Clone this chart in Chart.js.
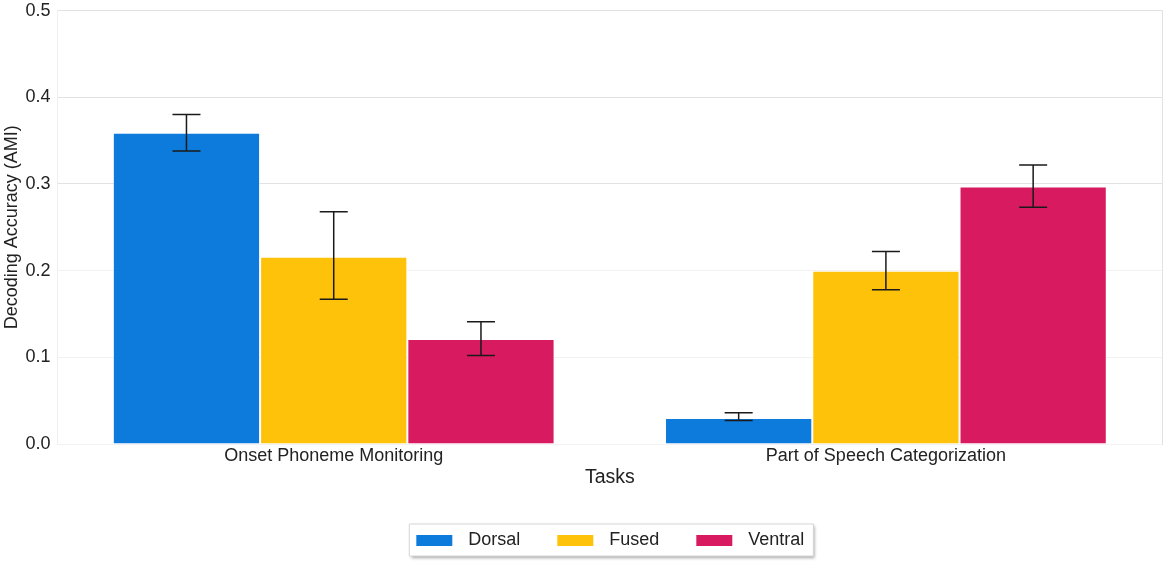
<!DOCTYPE html>
<html>
<head>
<meta charset="utf-8">
<script src="https://cdn.jsdelivr.net/npm/chart.js@4"></script>
<style>
  body { margin: 0; background: #fff; }
  #wrap { width: 1170px; height: 562px; position: relative; }
</style>
</head>
<body>
<div id="wrap"><canvas id="accChart"></canvas></div>
<script>
// values
const tasks = ["Onset Phoneme Monitoring", "Part of Speech Categorization"];
const seriesNames = ["Dorsal", "Fused", "Ventral"];

const dorsal = [0.359, 0.030];
const dorsalLow = [0.338, 0.027];
const dorsalHigh = [0.380, 0.036];

const fused = [0.216, 0.200];
const fusedLow = [0.167, 0.178];
const fusedHigh = [0.268, 0.222];

const ventral = [0.121, 0.297];
const ventralLow = [0.102, 0.273];
const ventralHigh = [0.141, 0.322];

const yTicks = [0, 0.1, 0.2, 0.3, 0.4, 0.5];

const colors = ["#0c7bdc", "#ffc20a", "#d81b60"];
const textColor = "#222";
const fontFamily = "'Liberation Sans', Arial, sans-serif";

// legend swatch: some blank room on the left, 36x11 colour block, small gap
const SW_LEFT = 27, SW_W = 36, SW_GAP = 7, SW_H = 11;
function makeSwatch(color) {
  const c = document.createElement("canvas");
  c.width = SW_LEFT + SW_W + SW_GAP;
  c.height = SW_H;
  const g = c.getContext("2d");
  g.fillStyle = color;
  g.fillRect(SW_LEFT, 0, SW_W, SW_H);
  return c;
}
const swatches = colors.map(makeSwatch);

// error bars (whiskers with caps)
const errorBars = {
  id: "errorBars",
  afterDatasetsDraw(chart) {
    const ctx = chart.ctx;
    const y = chart.scales.y;
    chart.data.datasets.forEach((ds, i) => {
      const meta = chart.getDatasetMeta(i);
      meta.data.forEach((bar, j) => {
        const top = y.getPixelForValue(ds.errHigh[j]);
        const bot = y.getPixelForValue(ds.errLow[j]);
        const cap = 14;
        ctx.save();
        ctx.strokeStyle = "#1a1a1a";
        ctx.lineWidth = 1.5;
        ctx.beginPath();
        ctx.moveTo(bar.x, top);
        ctx.lineTo(bar.x, bot);
        ctx.moveTo(bar.x - cap, top);
        ctx.lineTo(bar.x + cap, top);
        ctx.moveTo(bar.x - cap, bot);
        ctx.lineTo(bar.x + cap, bot);
        ctx.stroke();
        ctx.restore();
      });
    });
  }
};

// centre the legend under the plot area, then frame it with a soft shadow
const legendFrame = {
  id: "legendFrame",
  afterLayout(chart) {
    const lg = chart.legend;
    if (!lg) return;
    lg.left = chart.chartArea.left - 13;
    lg.right = chart.chartArea.right - 13;
    lg.width = lg.right - lg.left;
  },
  beforeDraw(chart) {
    const boxes = chart.legend && chart.legend.legendHitBoxes;
    if (!boxes || !boxes.length) return;
    let l = Infinity, r = -Infinity, t = Infinity, b = -Infinity;
    boxes.forEach(h => {
      l = Math.min(l, h.left);
      r = Math.max(r, h.left + h.width);
      t = Math.min(t, h.top);
      b = Math.max(b, h.top + h.height);
    });
    l += SW_LEFT;
    const ctx = chart.ctx;
    ctx.save();
    ctx.shadowColor = "rgba(0,0,0,0.35)";
    ctx.shadowBlur = 3;
    ctx.shadowOffsetX = 2;
    ctx.shadowOffsetY = 2;
    ctx.fillStyle = "#fff";
    ctx.strokeStyle = "#d6d6d6";
    ctx.lineWidth = 1;
    ctx.beginPath();
    ctx.rect(l - 7, t - 7, r - l + 16, b - t + 14);
    ctx.fill();
    ctx.shadowColor = "transparent";
    ctx.stroke();
    ctx.restore();
  }
};

const ctx = document.getElementById("accChart").getContext("2d");

new Chart(ctx, {
  type: "bar",
  data: {
    labels: tasks,
    datasets: [
      { label: seriesNames[0], data: dorsal, errLow: dorsalLow, errHigh: dorsalHigh, backgroundColor: colors[0] },
      { label: seriesNames[1], data: fused, errLow: fusedLow, errHigh: fusedHigh, backgroundColor: colors[1] },
      { label: seriesNames[2], data: ventral, errLow: ventralLow, errHigh: ventralHigh, backgroundColor: colors[2] }
    ].map(d => Object.assign(d, {
      borderColor: "rgba(255,255,255,0.5)",
      borderWidth: 1,
      categoryPercentage: 0.8,
      barPercentage: 1.0
    }))
  },
  options: {
    responsive: true,
    maintainAspectRatio: false,
    animation: false,
    layout: { padding: { top: 0, right: 0, left: 0, bottom: 3 } },
    plugins: {
      tooltip: { enabled: false },
      legend: {
        position: "bottom",
        labels: {
          usePointStyle: true,
          pointStyleWidth: SW_LEFT + SW_W + SW_GAP,
          boxHeight: SW_H,
          padding: 10,
          color: textColor,
          font: { family: fontFamily, size: 18 },
          generateLabels(chart) {
            const items = Chart.defaults.plugins.legend.labels.generateLabels(chart);
            items.forEach((it, i) => { it.pointStyle = swatches[i]; });
            return items;
          }
        }
      }
    },
    scales: {
      x: {
        grid: { display: false, drawTicks: false },
        border: { display: false },
        ticks: { color: textColor, font: { family: fontFamily, size: 18 }, padding: 1 },
        title: { display: true, text: "Tasks", color: textColor, font: { family: fontFamily, size: 19.5 }, padding: { top: -2, bottom: 32 } }
      },
      y: {
        min: 0,
        max: 0.5,
        afterBuildTicks(axis) {
          axis.ticks = yTicks.map(v => ({ value: v }));
        },
        grid: {
          color: c => (c.tick && c.tick.value >= 0.3 ? "#e2e2e2" : "#f2f2f2"),
          lineWidth: 1,
          drawTicks: false
        },
        border: { display: true, color: "#f0f0f0" },
        ticks: {
          color: textColor,
          padding: 7,
          font: { family: fontFamily, size: 18, lineHeight: 0.4 },
          callback: v => Number(v).toFixed(1)
        },
        title: { display: true, text: "Decoding Accuracy (AMI)", color: textColor, font: { family: fontFamily, size: 18 }, padding: { top: 1, bottom: -4 } }
      },
      yRight: {
        position: "right",
        min: 0,
        max: 0.5,
        grid: { display: false },
        ticks: { display: false },
        border: { display: true, color: "#e2e2e2" }
      }
    }
  },
  plugins: [legendFrame, errorBars]
});
</script>
</body>
</html>
